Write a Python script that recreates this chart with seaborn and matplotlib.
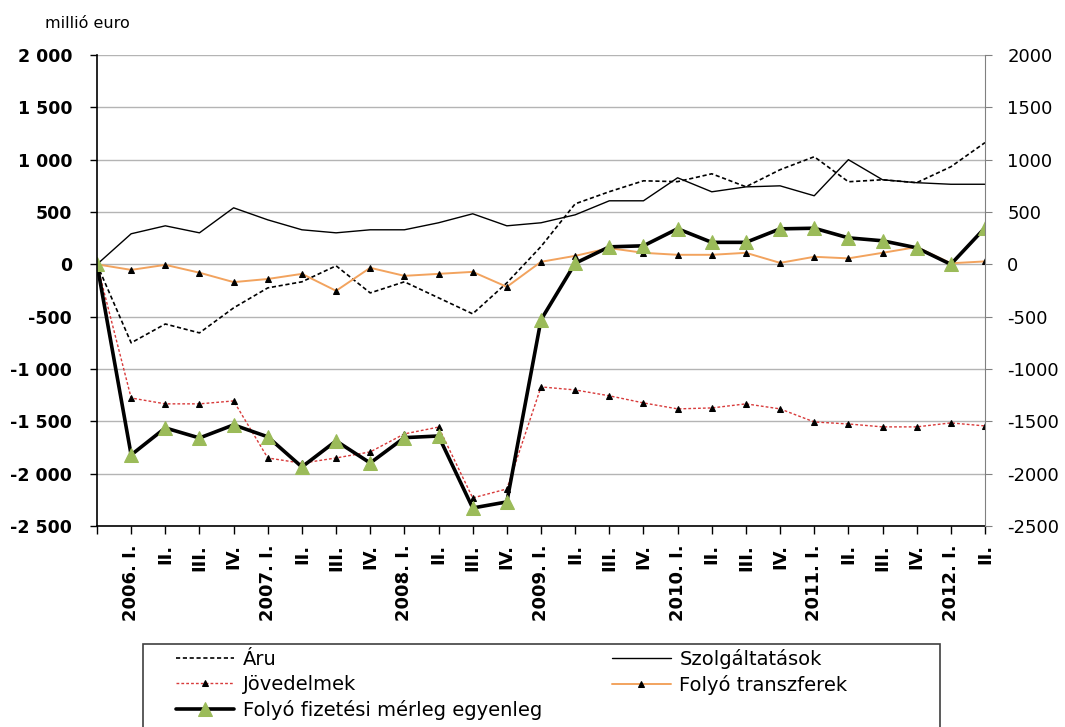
import matplotlib
matplotlib.use("Agg")
import matplotlib.pyplot as plt
from matplotlib.patches import Rectangle
import numpy as np
import seaborn as sns

# ── adatok (millió euro) ─────────────────────────────────────────────────────

CATEGORIES = [
    "",
    "2006. I.", "II.", "III.", "IV.",
    "2007. I.", "II.", "III.", "IV.",
    "2008. I.", "II.", "III.", "IV.",
    "2009. I.", "II.", "III.", "IV.",
    "2010. I.", "II.", "III.", "IV.",
    "2011. I.", "II.", "III.", "IV.",
    "2012. I.", "II.",
]

aru = [0, -750, -570, -655, -416, -225, -167, -14, -273, -167, -320, -473, -177,
       170, 578, 694, 798, 790, 865, 741, 904, 1028, 789, 808, 780, 932, 1163]
szolgaltatasok = [0, 292, 368, 301, 540, 425, 330, 301, 330, 330, 397, 483, 368,
                  397, 473, 607, 607, 827, 693, 740, 750, 655, 1000, 808, 780, 765, 765]
jovedelmek = [0, -1277, -1333, -1333, -1305, -1850, -1900, -1850, -1792, -1620, -1555,
              -2232, -2146, -1171, -1200, -1256, -1324, -1381, -1372, -1333, -1381,
              -1506, -1525, -1553, -1553, -1515, -1544]
transzferek = [0, -53, -5, -80, -170, -140, -91, -253, -33, -110, -91, -72, -215,
               24, 81, 155, 110, 91, 91, 110, 14, 72, 57, 110, 165, 10, 28]
egyenleg = [0, -1821, -1563, -1659, -1534, -1648, -1936, -1687, -1898, -1656, -1640,
            -2328, -2270, -530, 10, 167, 177, 340, 210, 210, 339, 345, 253, 225, 158, 0, 349]

Y_TICKS = [2000, 1500, 1000, 500, 0, -500, -1000, -1500, -2000, -2500]

# ── ábra ─────────────────────────────────────────────────────────────────────

sns.set_style("white")
plt.rcParams["font.family"] = ["DejaVu Sans"]
plt.rcParams["text.color"] = "black"
plt.rcParams["xtick.color"] = "black"
plt.rcParams["ytick.color"] = "black"

fig = plt.figure(figsize=(10.65, 7.27), dpi=100)
ax = fig.add_axes([97 / 1065, 1 - 526 / 727, 888 / 1065, 471 / 727])
x = np.arange(len(CATEGORIES))

h_aru = sns.lineplot(x=x, y=aru, ax=ax, color="black", lw=1.2,
                     linestyle=(0, (2.5, 1.6)), label="Áru").lines[-1]
h_szolg = sns.lineplot(x=x, y=szolgaltatasok, ax=ax, color="black", lw=1.0,
                       label="Szolgáltatások").lines[-1]
h_jov = sns.lineplot(x=x, y=jovedelmek, ax=ax, color="#d83a3a", lw=1.0,
                     linestyle=(0, (2, 1.5)), marker="^", markersize=5,
                     markerfacecolor="black", markeredgecolor="black",
                     label="Jövedelmek").lines[-1]
h_transz = sns.lineplot(x=x, y=transzferek, ax=ax, color="#f2a35e", lw=1.4,
                        marker="^", markersize=5, markerfacecolor="black",
                        markeredgecolor="black", label="Folyó transzferek").lines[-1]
h_egy = sns.lineplot(x=x, y=egyenleg, ax=ax, color="black", lw=2.6,
                     marker="^", markersize=10, markerfacecolor="#9bbb59",
                     markeredgecolor="#9bbb59", label="Folyó fizetési mérleg egyenleg").lines[-1]
ax.get_legend().remove()

ax.set_xlim(0, len(CATEGORIES) - 1)
ax.set_ylim(-2500, 2000)
ax.set_xticks(x)
ax.set_xticklabels(CATEGORIES, rotation=90, fontsize=13, fontweight="bold")
ax.set_yticks(Y_TICKS)
ax.set_yticklabels([f"{v:,}".replace(",", " ") for v in Y_TICKS],
                   fontsize=12.5, fontweight="bold")
ax.grid(axis="y", color="#b4b4b4", lw=1)
ax.set_axisbelow(True)
ax.tick_params(axis="x", direction="out", length=6, width=1, color="black",
               bottom=True, pad=7)
ax.tick_params(axis="y", direction="out", length=5, width=1, color="black",
               left=True, pad=13)
for side in ["top", "right"]:
    ax.spines[side].set_visible(False)
for side in ["left", "bottom"]:
    ax.spines[side].set_color("black")
    ax.spines[side].set_linewidth(1.2)

# jobb tengely
ax2 = ax.twinx()
ax2.set_ylim(ax.get_ylim())
ax2.set_yticks(Y_TICKS)
ax2.set_yticklabels([str(v) for v in Y_TICKS], fontsize=13)
ax2.tick_params(axis="y", direction="out", length=5, color="#808080", pad=11, right=True)
for side in ["top", "left", "bottom"]:
    ax2.spines[side].set_visible(False)
ax2.spines["right"].set_color("#808080")

fig.text(45 / 1065, 1 - 24 / 727, "millió euro", fontsize=11.5, va="center")

# jelmagyarázat
fig.patches.append(Rectangle((143 / 1065, -0.02), 797 / 1065, 0.02 + 1 - 644 / 727,
                             transform=fig.transFigure, fill=False,
                             edgecolor="#404040", lw=1.2))
fig.legend(handles=[h_aru, h_jov, h_egy, h_szolg, h_transz],
           labels=["Áru", "Jövedelmek", "Folyó fizetési mérleg egyenleg",
                   "Szolgáltatások", "Folyó transzferek"],
           ncol=2, loc="upper left", bbox_to_anchor=(176 / 1065, 1 - 649 / 727),
           frameon=False, fontsize=14, handlelength=3.0, handletextpad=0.45,
           columnspacing=3.6, labelspacing=0.3, borderpad=0, borderaxespad=0)

fig.savefig("out.png", dpi=100)
